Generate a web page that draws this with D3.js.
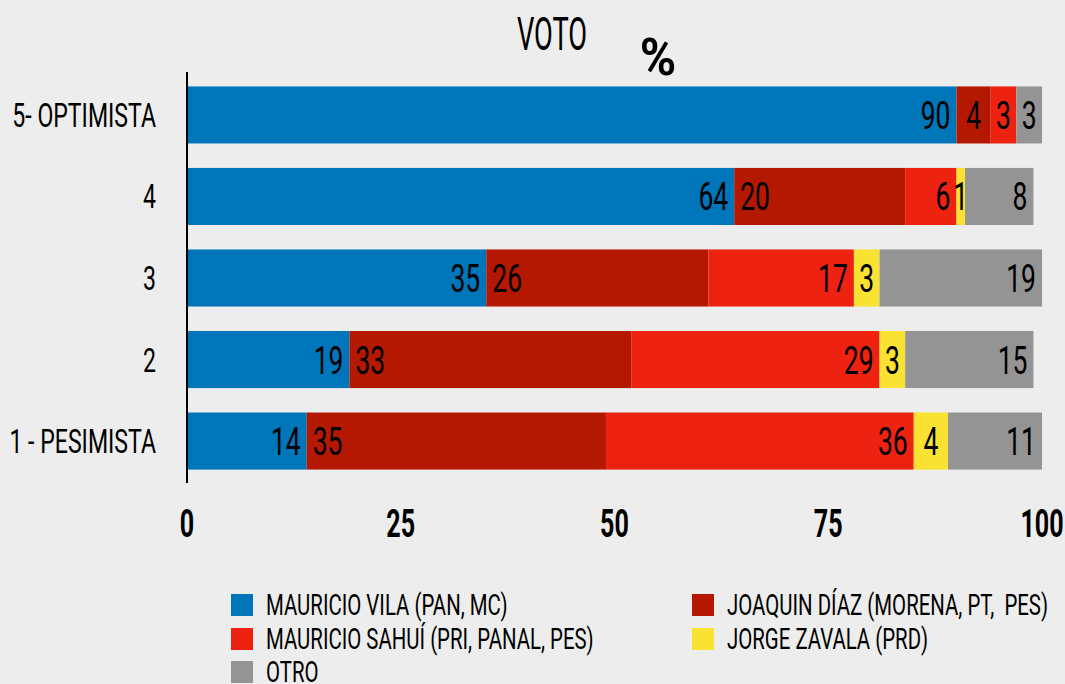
<!DOCTYPE html>
<html>
<head>
<meta charset="utf-8">
<script src="https://cdn.jsdelivr.net/npm/d3@7"></script>
<style>
  body { margin: 0; background: #ecedec; }
  text { font-family: Roboto, "DejaVu Sans", sans-serif; fill: #000; white-space: pre; }
</style>
</head>
<body>
<script>
// Datos
const categorias = ['5- OPTIMISTA', '4', '3', '2', '1 - PESIMISTA'];
const series = ['vila', 'diaz', 'sahui', 'zavala', 'otro'];
const nombres = ['MAURICIO VILA (PAN, MC)', 'JOAQUIN DÍAZ (MORENA, PT,  PES)',
  'MAURICIO SAHUÍ (PRI, PANAL, PES)', 'JORGE ZAVALA (PRD)', 'OTRO'];
const vila = [90, 64, 35, 19, 14];
const diaz = [4, 20, 26, 33, 35];
const sahui = [3, 6, 17, 29, 36];
const zavala = [0, 1, 3, 3, 4];
const otro = [3, 8, 19, 15, 11];
const ticks = [0, 25, 50, 75, 100];

const colores = {
  vila: '#0076ba', diaz: '#b41800', sahui: '#ee2210', zavala: '#f9e232', otro: '#949494'
};

const tabla = categorias.map((c, i) => ({
  cat: c, vila: vila[i], diaz: diaz[i], sahui: sahui[i], zavala: zavala[i], otro: otro[i]
}));

const svg = d3.select('body').append('svg').attr('width', 1065).attr('height', 684);
svg.append('rect').attr('width', 1065).attr('height', 684).attr('fill', '#ecedec');

const x = d3.scaleLinear().domain([0, 100]).range([187, 1042]);
const y = d3.scaleBand().domain(categorias).range([75, 481]).paddingInner(0.3).paddingOuter(0.14);

// texte "condensé" : translation puis échelle horizontale
function cond(sel, sx) {
  return sel.attr('transform', function () {
    const tx = +this.getAttribute('data-x'), ty = +this.getAttribute('data-y');
    return `translate(${tx},${ty}) scale(${sx},1)`;
  });
}

// Titre
svg.append('text').attr('data-x', 552).attr('data-y', 50).attr('text-anchor', 'middle')
  .attr('font-size', 47).text('VOTO').call(cond, 0.58);
svg.append('text').attr('data-x', 658).attr('data-y', 75).attr('text-anchor', 'middle')
  .attr('font-size', 52).attr('font-weight', 'bold').text('%').call(cond, 0.95);

// Barres empilées
const stack = d3.stack().keys(series)(tabla);
const groupes = svg.append('g').selectAll('g').data(stack).join('g')
  .attr('fill', d => colores[d.key]);

groupes.selectAll('rect').data(d => d).join('rect')
  .attr('x', d => x(d[0]))
  .attr('y', d => y(d.data.cat))
  .attr('width', d => x(d[1]) - x(d[0]))
  .attr('height', y.bandwidth());

// Étiquettes des valeurs
stack.forEach(s => {
  svg.append('g').selectAll('text').data(s.filter(d => d[1] - d[0] > 0)).join('text')
    .attr('font-size', 39)
    .attr('text-anchor', d => {
      const v = d[1] - d[0];
      if (v < 5) return 'middle';
      return s.key === 'diaz' ? 'start' : 'end';
    })
    .attr('data-x', d => {
      const v = d[1] - d[0];
      if (v < 5) return (x(d[0]) + x(d[1])) / 2;
      return s.key === 'diaz' ? x(d[0]) + 6 : x(d[1]) - 6;
    })
    .attr('data-y', d => y(d.data.cat) + y.bandwidth() / 2 + 14)
    .text(d => d[1] - d[0])
    .call(cond, 0.68);
});

// Axe vertical
svg.append('line').attr('x1', 187).attr('x2', 187).attr('y1', 72).attr('y2', 483)
  .attr('stroke', '#000').attr('stroke-width', 2);

// Catégories
svg.append('g').selectAll('text').data(categorias).join('text')
  .attr('text-anchor', 'end').attr('font-size', 33)
  .attr('data-x', 156).attr('data-y', d => y(d) + y.bandwidth() / 2 + 12)
  .text(d => d).call(cond, 0.7);

// Graduations
svg.append('g').selectAll('text').data(ticks).join('text')
  .attr('text-anchor', 'middle').attr('font-size', 38).attr('font-weight', 'bold')
  .attr('data-x', d => x(d)).attr('data-y', 537)
  .text(d => d).call(cond, 0.66);

// Légende
const legende = [
  { k: 'vila', lx: 231, ly: 594 },
  { k: 'diaz', lx: 692, ly: 594 },
  { k: 'sahui', lx: 231, ly: 628 },
  { k: 'zavala', lx: 692, ly: 628 },
  { k: 'otro', lx: 231, ly: 661 }
];
const leg = svg.append('g').selectAll('g').data(legende).join('g');
leg.append('rect').attr('x', d => d.lx).attr('y', d => d.ly).attr('width', 22).attr('height', 22)
  .attr('fill', d => colores[d.k]);
leg.append('text').attr('font-size', 30)
  .attr('data-x', d => d.lx + 35).attr('data-y', d => d.ly + 21)
  .text(d => nombres[series.indexOf(d.k)]).call(cond, 0.68);
</script>
</body>
</html>
